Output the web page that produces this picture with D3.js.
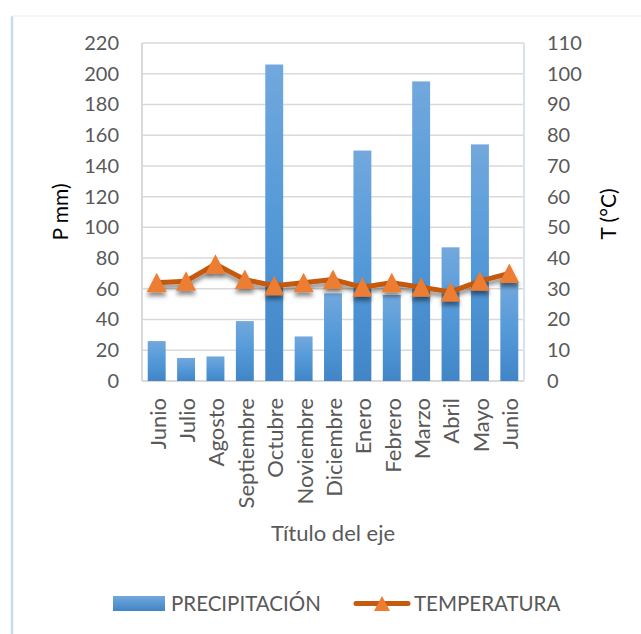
<!DOCTYPE html>
<html>
<head>
<meta charset="utf-8">
<script src="https://cdn.jsdelivr.net/npm/d3@7"></script>
<style>
  body { margin: 0; background: #fff; }
  svg text { font-family: Lato, "Open Sans", sans-serif; fill: #595959; }
</style>
</head>
<body>
<svg id="chart" width="641" height="634"></svg>
<script>
// climate chart: precipitation bars + temperature line
const months = ['Junio', 'Julio', 'Agosto', 'Septiembre', 'Octubre', 'Noviembre', 'Diciembre',
  'Enero', 'Febrero', 'Marzo', 'Abril', 'Mayo', 'Junio'];
const precipitacion = [26, 15, 16, 39, 206, 29, 57, 150, 56, 195, 87, 154, 64];
const temperatura = [32, 32.5, 38, 33, 31, 32, 33, 30.5, 32, 30.5, 29, 32.5, 35];
const pTicks = [0, 20, 40, 60, 80, 100, 120, 140, 160, 180, 200, 220];
const tTicks = [0, 10, 20, 30, 40, 50, 60, 70, 80, 90, 100, 110];

const svg = d3.select('#chart');
const plot = { left: 142, right: 524, top: 43, bottom: 381 };

const x = d3.scaleBand()
  .domain(d3.range(months.length))
  .range([plot.left, plot.right])
  .paddingInner(0.39)
  .paddingOuter(0.195);

const yP = d3.scaleLinear().domain([0, 220]).range([plot.bottom, plot.top]);
const yT = d3.scaleLinear().domain([0, 110]).range([plot.bottom, plot.top]);

const defs = svg.append('defs');
const grad = defs.append('linearGradient')
  .attr('id', 'barGrad')
  .attr('x1', 0).attr('y1', 0).attr('x2', 0).attr('y2', 1);
grad.append('stop').attr('offset', '0%').attr('stop-color', '#72a8dd');
grad.append('stop').attr('offset', '50%').attr('stop-color', '#5399d8');
grad.append('stop').attr('offset', '100%').attr('stop-color', '#4185c6');

const lgGrad = defs.append('linearGradient')
  .attr('id', 'legGrad')
  .attr('x1', 0).attr('y1', 0).attr('x2', 0).attr('y2', 1);
lgGrad.append('stop').attr('offset', '0%').attr('stop-color', '#72a8dd');
lgGrad.append('stop').attr('offset', '100%').attr('stop-color', '#4185c6');

const shadow = defs.append('filter')
  .attr('id', 'shadow')
  .attr('x', '-50%').attr('y', '-50%').attr('width', '200%').attr('height', '200%');
shadow.append('feDropShadow')
  .attr('dx', 0).attr('dy', 4)
  .attr('stdDeviation', 2.2)
  .attr('flood-color', '#000')
  .attr('flood-opacity', 0.45);

// outer chart border (only left and top visible)
svg.append('line')
  .attr('x1', 12).attr('x2', 12).attr('y1', 16).attr('y2', 634)
  .attr('stroke', '#c6dbf0').attr('stroke-width', 2.5);
svg.append('line')
  .attr('x1', 12).attr('x2', 641).attr('y1', 16).attr('y2', 16)
  .attr('stroke', '#eef3f9').attr('stroke-width', 1.5);

// gridlines
svg.append('g')
  .selectAll('line')
  .data(pTicks)
  .enter().append('line')
  .attr('x1', plot.left).attr('x2', plot.right)
  .attr('y1', d => yP(d)).attr('y2', d => yP(d))
  .attr('stroke', '#d9d9d9').attr('stroke-width', 1.5);

// plot area border
svg.append('line')
  .attr('x1', plot.left).attr('x2', plot.left)
  .attr('y1', plot.top).attr('y2', plot.bottom)
  .attr('stroke', '#d9d9d9').attr('stroke-width', 2);
svg.append('line')
  .attr('x1', plot.right).attr('x2', plot.right)
  .attr('y1', plot.top).attr('y2', plot.bottom)
  .attr('stroke', '#d5e3f1').attr('stroke-width', 2);
svg.append('line')
  .attr('x1', plot.left).attr('x2', plot.right)
  .attr('y1', plot.bottom).attr('y2', plot.bottom)
  .attr('stroke', '#d9d9d9').attr('stroke-width', 2);

// bars
svg.append('g')
  .selectAll('rect')
  .data(precipitacion)
  .enter().append('rect')
  .attr('x', (d, i) => x(i))
  .attr('width', x.bandwidth())
  .attr('y', d => yP(d))
  .attr('height', d => plot.bottom - yP(d))
  .attr('fill', 'url(#barGrad)');

// temperature line
const line = d3.line()
  .x((d, i) => x(i) + x.bandwidth() / 2)
  .y(d => yT(d));

svg.append('path')
  .datum(temperatura)
  .attr('d', line)
  .attr('fill', 'none')
  .attr('stroke', '#c55a11')
  .attr('stroke-width', 5)
  .attr('stroke-linejoin', 'round')
  .attr('filter', 'url(#shadow)');

const tri = 'M0,-10L10,9.5L-10,9.5Z';
svg.append('g')
  .selectAll('path')
  .data(temperatura)
  .enter().append('path')
  .attr('d', tri)
  .attr('transform', (d, i) => `translate(${x(i) + x.bandwidth() / 2},${yT(d)})`)
  .attr('fill', '#ed7d31')
  .attr('filter', 'url(#shadow)');

// left axis
const leftAxis = svg.append('g')
  .attr('transform', `translate(${plot.left},0)`)
  .call(d3.axisLeft(yP).tickValues(pTicks).tickSize(0).tickPadding(23));
leftAxis.select('.domain').remove();
leftAxis.selectAll('text')
  .style('font-size', '20px')
  .attr('fill', '#595959');

// right axis
const rightAxis = svg.append('g')
  .attr('transform', `translate(${plot.right},0)`)
  .call(d3.axisRight(yT).tickValues(tTicks).tickSize(0).tickPadding(23));
rightAxis.select('.domain').remove();
rightAxis.selectAll('text')
  .style('font-size', '20px')
  .attr('fill', '#595959');

// category labels
svg.append('g')
  .selectAll('text')
  .data(months)
  .enter().append('text')
  .attr('transform', (d, i) => `translate(${x(i) + x.bandwidth() / 2 + 1},398) rotate(-90)`)
  .attr('text-anchor', 'end')
  .attr('dy', '0.36em')
  .style('font-size', '22px')
  .text(d => d);

// axis titles
svg.append('text')
  .attr('transform', `translate(61,${(plot.top + plot.bottom) / 2}) rotate(-90)`)
  .attr('text-anchor', 'middle')
  .attr('dy', '0.35em')
  .style('font-size', '21px')
  .style('fill', '#000')
  .text('P mm)');

svg.append('text')
  .attr('transform', `translate(609,${(plot.top + plot.bottom) / 2 + 2}) rotate(-90)`)
  .attr('text-anchor', 'middle')
  .attr('dy', '0.35em')
  .style('font-size', '21px')
  .style('fill', '#000')
  .text('T (°C)');

svg.append('text')
  .attr('x', 333)
  .attr('y', 541)
  .attr('text-anchor', 'middle')
  .style('font-size', '22px')
  .text('Título del eje');

// legend
const legend = svg.append('g');
legend.append('rect')
  .attr('x', 113).attr('y', 596)
  .attr('width', 52).attr('height', 15)
  .attr('fill', 'url(#legGrad)');
legend.append('text')
  .attr('x', 171).attr('y', 611)
  .style('font-size', '20.5px')
  .text('PRECIPITACIÓN');

legend.append('line')
  .attr('x1', 356).attr('x2', 408)
  .attr('y1', 603.5).attr('y2', 603.5)
  .attr('stroke', '#c55a11')
  .attr('stroke-width', 5)
  .attr('stroke-linecap', 'round');
legend.append('path')
  .attr('d', 'M0,-8L8,7L-8,7Z')
  .attr('transform', 'translate(382,604)')
  .attr('fill', '#ed7d31');
legend.append('text')
  .attr('x', 414).attr('y', 611)
  .style('font-size', '20.5px')
  .text('TEMPERATURA');
</script>
</body>
</html>
